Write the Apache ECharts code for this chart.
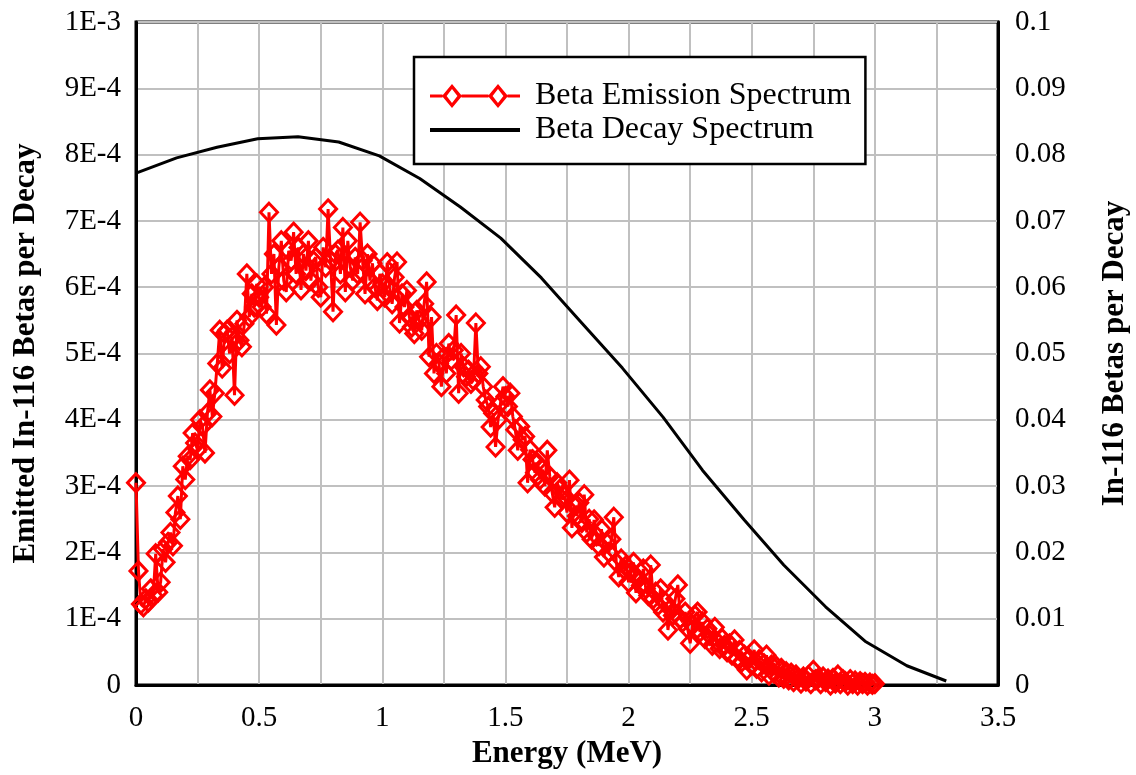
<!DOCTYPE html>
<html>
<head>
<meta charset="utf-8">
<script src="https://cdn.jsdelivr.net/npm/echarts@6/dist/echarts.min.js"></script>
<style>
html,body{margin:0;padding:0;background:#fff;}
#chart{width:1136px;height:775px;}
</style>
</head>
<body>
<div id="chart"></div>
<script>
// Beta emission spectrum, sampled every 0.01 MeV from 0.00 to 3.00 MeV, values in units of 1E-4
const emissionStart = 0.0;
const emissionStep = 0.01;
const emissionE4 = [
  3.05, 1.72, 1.22, 1.18, 1.30, 1.25, 1.45, 1.35, 1.98, 1.40,
  1.55, 2.05, 1.85, 2.15, 2.30, 2.10, 2.60, 2.85, 2.50, 3.30,
  3.10, 3.45, 3.40, 3.80, 3.65, 3.55, 4.00, 3.90, 3.50, 4.10,
  4.45, 4.05, 4.40, 4.85, 5.35, 4.78, 5.30, 5.35, 5.00, 5.25,
  4.37, 5.50, 5.20, 5.10, 5.45, 6.20, 5.55, 5.90, 5.70, 6.05,
  5.85, 5.70, 6.00, 5.60, 7.13, 6.20, 6.50, 5.43, 6.30, 6.70,
  6.10, 5.93, 6.55, 6.40, 6.83, 6.20, 6.60, 5.96, 6.50, 6.25,
  6.70, 6.10, 6.40, 6.45, 6.00, 5.85, 6.60, 6.30, 7.18, 6.40,
  5.63, 6.50, 6.56, 6.20, 6.90, 5.93, 6.70, 6.30, 6.10, 6.45,
  6.20, 6.98, 6.40, 5.90, 6.50, 6.10, 6.36, 6.00, 5.80, 6.20,
  6.05, 5.85, 6.37, 6.00, 5.75, 6.15, 6.38, 5.46, 5.90, 5.70,
  5.95, 5.55, 5.40, 5.30, 5.65, 5.50, 5.35, 5.75, 6.08, 4.95,
  5.55, 4.70, 5.00, 4.85, 4.50, 4.95, 4.70, 5.15, 4.90, 5.05,
  5.58, 4.40, 5.00, 4.80, 4.65, 4.75, 4.55, 4.60, 5.46, 4.70,
  4.80, 4.50, 4.30, 4.20, 3.89, 4.10, 3.59, 4.00, 4.25, 4.50,
  4.35, 4.20, 4.40, 4.05, 3.85, 3.54, 3.90, 3.70, 3.75, 3.05,
  3.55, 3.40, 3.20, 3.35, 3.10, 3.25, 3.00, 3.54, 3.15, 2.90,
  2.68, 3.05, 2.95, 2.80, 2.85, 2.60, 3.09, 2.37, 2.70, 2.55,
  2.75, 2.45, 2.87, 2.30, 2.50, 2.20, 2.49, 2.25, 2.10, 2.35,
  1.93, 2.15, 2.00, 2.20, 2.53, 1.85, 1.63, 1.90, 1.75, 1.80,
  1.55, 1.70, 1.85, 1.39, 1.60, 1.50, 1.75, 1.45, 1.35, 1.81,
  1.30, 1.40, 1.20, 1.45, 1.10, 1.25, 0.83, 1.15, 1.05, 1.30,
  1.51, 1.00, 0.95, 1.10, 0.85, 0.63, 0.90, 1.05, 1.10, 0.80,
  0.95, 0.70, 0.85, 0.75, 0.60, 0.87, 0.65, 0.55, 0.70, 0.60,
  0.50, 0.62, 0.45, 0.68, 0.40, 0.52, 0.35, 0.45, 0.23, 0.40,
  0.30, 0.53, 0.25, 0.38, 0.20, 0.32, 0.45, 0.15, 0.30, 0.18,
  0.28, 0.12, 0.25, 0.10, 0.20, 0.08, 0.18, 0.05, 0.15, 0.10,
  0.03, 0.12, 0.06, 0.14, 0.02, 0.22, 0.08, 0.10, 0.02, 0.12,
  0.05, 0.09, 0.00, 0.10, 0.03, 0.15, 0.02, 0.08, 0.05, 0.00,
  0.08, 0.02, 0.06, 0.00, 0.05, 0.02, 0.04, 0.00, 0.03, 0.01,
  0.02
];

// Beta decay spectrum (right axis)
const decayEnergy = [0, 0.165, 0.329, 0.494, 0.658, 0.823, 0.988, 1.152, 1.317, 1.481,
  1.646, 1.81, 1.975, 2.14, 2.30, 2.47, 2.63, 2.80, 2.96, 3.13, 3.29];
const decayValue = [0.0772, 0.0795, 0.0811, 0.0824, 0.0827, 0.0819, 0.0798, 0.0764, 0.0721, 0.0674,
  0.0614, 0.0546, 0.0478, 0.0404, 0.0324, 0.0249, 0.0181, 0.0118, 0.0066, 0.0029, 0.0006];

const leftTickLabels = ['0','1E-4','2E-4','3E-4','4E-4','5E-4','6E-4','7E-4','8E-4','9E-4','1E-3'];
const rightTickLabels = ['0','0.01','0.02','0.03','0.04','0.05','0.06','0.07','0.08','0.09','0.1'];
const xTickLabels = ['0','0.5','1','1.5','2','2.5','3','3.5'];

const emissionData = emissionE4.map((v, i) => [+(emissionStart + i * emissionStep).toFixed(2), v * 1e-4]);
const decayData = decayEnergy.map((e, i) => [e, decayValue[i]]);

const font = 'Liberation Serif, Times New Roman, serif';
const gridColor = '#c0c0c0';
const tickFont = 29;
const titleFont = 31;

// legend icons: line with two hollow diamonds, and a plain thick line (90 x 24 box)
const emissionIcon = 'path://M0 10.5L12.5 10.5L12.5 13.5L0 13.5Z' +
  'M31.5 10.5L58.5 10.5L58.5 13.5L31.5 13.5Z' +
  'M77.5 10.5L90 10.5L90 13.5L77.5 13.5Z' +
  'M22 0L32 12L22 24L12 12Z M22 5L16.6 12L22 19L27.4 12Z' +
  'M68 0L78 12L68 24L58 12Z M68 5L62.6 12L68 19L73.4 12Z';
const decayIcon = 'path://M0 10L90 10L90 14L0 14Z M0 0L0.01 0L0.01 0.01Z M0 24L0.01 24L0.01 23.99Z';

const chart = echarts.init(document.getElementById('chart'), null, {renderer: 'canvas'});
chart.setOption({
  animation: false,
  backgroundColor: '#fff',
  textStyle: {fontFamily: font},
  grid: {left: 136, right: 138, top: 22, bottom: 90, show: true, borderColor: '#000', borderWidth: 3,
    backgroundColor: 'transparent', containLabel: false, outerBoundsMode: 'none'},
  legend: {
    left: 414, top: 57,
    orient: 'vertical',
    backgroundColor: '#fff',
    borderColor: '#000', borderWidth: 2.5,
    padding: [22, 14, 17, 16],
    itemWidth: 90, itemHeight: 24, itemGap: 0,
    textStyle: {fontFamily: font, fontSize: 32, lineHeight: 34, color: '#000', padding: [0, 0, 0, 10]},
    data: [
      {name: 'Beta Emission Spectrum', icon: emissionIcon, itemStyle: {color: '#ff0000', borderWidth: 0}},
      {name: 'Beta Decay Spectrum', icon: decayIcon, itemStyle: {color: '#000', borderWidth: 0}}
    ]
  },
  xAxis: {
    type: 'value', min: 0, max: 3.5, interval: 0.5,
    name: 'Energy (MeV)', nameLocation: 'middle', nameGap: 53,
    nameTextStyle: {fontFamily: font, fontSize: titleFont, fontWeight: 'bold', color: '#000'},
    axisLine: {show: true, lineStyle: {color: '#000', width: 3}},
    axisTick: {show: false},
    axisLabel: {fontFamily: font, fontSize: tickFont, color: '#000', margin: 19,
      formatter: v => xTickLabels[Math.round(v / 0.5)]},
    splitLine: {show: true, lineStyle: {color: gridColor, width: 2}},
    minorTick: {show: false, splitNumber: 2},
    minorSplitLine: {show: true, lineStyle: {color: gridColor, width: 2}}
  },
  yAxis: [
    {
      type: 'value', min: 0, max: 1e-3, interval: 1e-4, position: 'left',
      name: 'Emitted In-116 Betas per Decay', nameLocation: 'middle', nameGap: 95, nameRotate: 90,
      nameTextStyle: {fontFamily: font, fontSize: titleFont, fontWeight: 'bold', color: '#000'},
      axisLine: {show: true, lineStyle: {color: '#000', width: 3}},
      axisTick: {show: false},
      axisLabel: {fontFamily: font, fontSize: tickFont, color: '#000', margin: 15,
        formatter: v => leftTickLabels[Math.round(v / 1e-4)]},
      splitLine: {show: true, lineStyle: {color: gridColor, width: 2}}
    },
    {
      type: 'value', min: 0, max: 0.1, interval: 0.01, position: 'right',
      name: 'In-116 Betas per Decay', nameLocation: 'middle', nameGap: 101, nameRotate: 90,
      nameTextStyle: {fontFamily: font, fontSize: titleFont, fontWeight: 'bold', color: '#000'},
      axisLine: {show: true, lineStyle: {color: '#000', width: 3}},
      axisTick: {show: false},
      axisLabel: {fontFamily: font, fontSize: tickFont, color: '#000', margin: 17,
        formatter: v => rightTickLabels[Math.round(v / 0.01)]},
      splitLine: {show: false}
    }
  ],
  series: [
    {
      name: 'Beta Decay Spectrum', type: 'line', yAxisIndex: 1,
      data: decayData, showSymbol: false, symbol: 'none',
      lineStyle: {color: '#000', width: 3}, itemStyle: {color: '#000'},
      z: 2
    },
    {
      name: 'Beta Emission Spectrum', type: 'line', yAxisIndex: 0,
      data: emissionData, symbol: 'diamond', symbolSize: [17, 18], showAllSymbol: true,
      clip: false,
      lineStyle: {color: '#ff0000', width: 3},
      itemStyle: {color: 'rgba(255,255,255,0)', borderColor: '#ff0000', borderWidth: 3},
      z: 3
    }
  ]
});
</script>
</body>
</html>
